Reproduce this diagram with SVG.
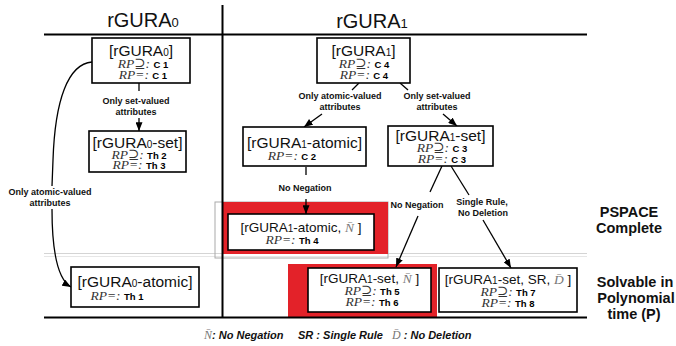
<svg xmlns="http://www.w3.org/2000/svg" width="676" height="346" viewBox="0 0 676 346">
<style>
.box{fill:#fff;stroke:#000;stroke-width:1.6}
.t{font-family:"Liberation Sans",Arial,sans-serif;font-size:15.5px;fill:#111}
.ts{font-family:"Liberation Sans",Arial,sans-serif;font-size:13.5px;fill:#111}
.sub{font-size:10px}
.rp{font-family:"Liberation Serif","DejaVu Serif",serif;font-style:italic;font-size:13.5px;fill:#333}
.v{font-family:"Liberation Sans",Arial,sans-serif;font-weight:bold;font-size:9.5px;fill:#000}
.ov{font-family:"Liberation Serif","DejaVu Serif",serif;font-style:italic;fill:#777}
.lbl{font-family:"Liberation Sans",Arial,sans-serif;font-weight:bold;font-size:9px;fill:#111;text-anchor:middle}
.hd{font-family:"Liberation Sans",Arial,sans-serif;font-size:20px;fill:#111;text-anchor:middle}
.cls{font-family:"Liberation Sans",Arial,sans-serif;font-weight:bold;font-size:14.5px;fill:#111;text-anchor:middle}
.leg{font-family:"Liberation Sans",Arial,sans-serif;font-weight:bold;font-style:italic;font-size:11px;fill:#111}
.c{fill:none;stroke:#000;stroke-width:1.3}
.frame{stroke:#000;stroke-width:2;fill:none}
</style>
<defs>
<marker id="ah" viewBox="0 0 10 8" refX="10" refY="4" markerWidth="9" markerHeight="7" markerUnits="userSpaceOnUse" orient="auto"><path d="M0,0 L10,4 L0,8 z" fill="#000"/></marker>
</defs>

<g id="background">
  <line x1="44" y1="253.5" x2="587" y2="253.5" stroke="#d4d4d4" stroke-width="1"/>
  <line x1="44" y1="256.5" x2="587" y2="256.5" stroke="#e6e6e6" stroke-width="1"/>
  <rect x="215" y="202" width="173" height="56" fill="none" stroke="#aaa" stroke-width="1"/>
  <rect x="223" y="202" width="165" height="52" fill="#e32229"/>
  <rect x="288" y="264" width="149" height="53" fill="#e32229"/>
</g>

<g id="frame">
  <line class="frame" x1="44" y1="34.5" x2="587" y2="34.5"/>
  <line class="frame" x1="44" y1="317.5" x2="587" y2="317.5"/>
  <line class="frame" x1="222.5" y1="5" x2="222.5" y2="318"/>
  <text class="hd" x="143" y="27">rGURA<tspan font-size="13px">0</tspan></text>
  <text class="hd" x="372" y="28">rGURA<tspan font-size="13px">1</tspan></text>
  <text class="cls" x="629" y="217">PSPACE</text>
  <text class="cls" x="629" y="233">Complete</text>
  <text class="cls" x="635" y="287">Solvable in</text>
  <text class="cls" x="636" y="303">Polynomial</text>
  <text class="cls" x="634" y="319">time (P)</text>
</g>

<g id="connectors">
  <line class="c" x1="139" y1="83" x2="139" y2="91"/>
  <text class="lbl" x="136" y="103.5">Only set-valued</text>
  <text class="lbl" x="136" y="114.5">attributes</text>
  <line class="c" x1="139" y1="118" x2="139" y2="131" marker-end="url(#ah)"/>

  <path class="c" d="M92,62 C68,64 55,100 53,160 L52,186"/>
  <text class="lbl" x="50" y="195">Only atomic-valued</text>
  <text class="lbl" x="50" y="206">attributes</text>
  <path class="c" d="M52,209 C52,250 57,279 71,287" marker-end="url(#ah)"/>

  <line class="c" x1="359" y1="83" x2="352" y2="90"/>
  <text class="lbl" x="340" y="99">Only atomic-valued</text>
  <text class="lbl" x="340" y="110">attributes</text>
  <line class="c" x1="322" y1="114" x2="304" y2="127" marker-end="url(#ah)"/>

  <line class="c" x1="400" y1="83" x2="408" y2="90"/>
  <text class="lbl" x="437" y="99">Only set-valued</text>
  <text class="lbl" x="437" y="110">attributes</text>
  <line class="c" x1="443" y1="114" x2="457" y2="126" marker-end="url(#ah)"/>

  <line class="c" x1="306" y1="167" x2="306" y2="175"/>
  <text class="lbl" x="305" y="191">No Negation</text>
  <line class="c" x1="306" y1="199" x2="306" y2="214" marker-end="url(#ah)"/>

  <line class="c" x1="442" y1="166" x2="430" y2="192"/>
  <text class="lbl" x="417" y="208">No Negation</text>
  <line class="c" x1="418" y1="216" x2="396" y2="267" marker-end="url(#ah)"/>

  <line class="c" x1="451" y1="166" x2="469" y2="195"/>
  <text class="lbl" x="482" y="205">Single Rule,</text>
  <text class="lbl" x="483" y="216">No Deletion</text>
  <line class="c" x1="483" y1="220" x2="511" y2="268" marker-end="url(#ah)"/>
</g>

<g id="n-rgura0">
  <rect class="box" x="92" y="38" width="98" height="45"/>
  <text class="t" x="141" y="56" text-anchor="middle">[rGURA<tspan class="sub">0</tspan>]</text>
  <text x="143" y="67.5" text-anchor="middle"><tspan class="rp">RP⊇: </tspan><tspan class="v">C 1</tspan></text>
  <text x="143" y="78.5" text-anchor="middle"><tspan class="rp">RP=: </tspan><tspan class="v">C 1</tspan></text>
</g>

<g id="n-rgura0-set">
  <rect class="box" x="89" y="131" width="97" height="41"/>
  <text class="t" x="137.5" y="148" text-anchor="middle">[rGURA<tspan class="sub">0</tspan>-set]</text>
  <text x="139" y="159" text-anchor="middle"><tspan class="rp">RP⊇: </tspan><tspan class="v">Th 2</tspan></text>
  <text x="139" y="169" text-anchor="middle"><tspan class="rp">RP=: </tspan><tspan class="v">Th 3</tspan></text>
</g>

<g id="n-rgura0-atomic">
  <rect class="box" x="71" y="267" width="128" height="40"/>
  <text class="t" x="135" y="287" text-anchor="middle">[rGURA<tspan class="sub">0</tspan>-atomic]</text>
  <text x="117" y="300" text-anchor="middle"><tspan class="rp">RP=: </tspan><tspan class="v">Th 1</tspan></text>
</g>

<g id="n-rgura1">
  <rect class="box" x="317" y="38" width="93" height="45"/>
  <text class="t" x="363.5" y="56" text-anchor="middle">[rGURA<tspan class="sub">1</tspan>]</text>
  <text x="364" y="67.5" text-anchor="middle"><tspan class="rp">RP⊇: </tspan><tspan class="v">C 4</tspan></text>
  <text x="364" y="78.5" text-anchor="middle"><tspan class="rp">RP=: </tspan><tspan class="v">C 4</tspan></text>
</g>

<g id="n-rgura1-atomic">
  <rect class="box" x="243" y="127" width="123" height="39"/>
  <text class="t" x="304.5" y="148" text-anchor="middle">[rGURA<tspan class="sub">1</tspan>-atomic]</text>
  <text x="292" y="160" text-anchor="middle"><tspan class="rp">RP=: </tspan><tspan class="v">C 2</tspan></text>
</g>

<g id="n-rgura1-set">
  <rect class="box" x="388" y="126" width="105" height="40"/>
  <text class="t" x="440.5" y="141" text-anchor="middle">[rGURA<tspan class="sub">1</tspan>-set]</text>
  <text x="442" y="152" text-anchor="middle"><tspan class="rp">RP⊇: </tspan><tspan class="v">C 3</tspan></text>
  <text x="442" y="163" text-anchor="middle"><tspan class="rp">RP=: </tspan><tspan class="v">C 3</tspan></text>
</g>

<g id="n-rgura1-atomic-nn">
  <rect class="box" x="228" y="214" width="146" height="36"/>
  <text class="ts" x="301" y="232" text-anchor="middle">[rGURA<tspan class="sub">1</tspan>-atomic, <tspan class="ov">N̄</tspan> ]</text>
  <text x="292" y="244" text-anchor="middle"><tspan class="rp">RP=: </tspan><tspan class="v">Th 4</tspan></text>
</g>

<g id="n-rgura1-set-nn">
  <rect class="box" x="308" y="268" width="123" height="44"/>
  <text class="ts" x="369.5" y="283" text-anchor="middle">[rGURA<tspan class="sub">1</tspan>-set, <tspan class="ov">N̄</tspan> ]</text>
  <text x="372" y="295" text-anchor="middle"><tspan class="rp">RP⊇: </tspan><tspan class="v">Th 5</tspan></text>
  <text x="372" y="306" text-anchor="middle"><tspan class="rp">RP=: </tspan><tspan class="v">Th 6</tspan></text>
</g>

<g id="n-rgura1-set-sr-nd">
  <rect class="box" x="439" y="268" width="138" height="44"/>
  <text class="ts" x="508" y="284" text-anchor="middle">[rGURA<tspan class="sub">1</tspan>-set, SR, <tspan class="ov">D̄</tspan> ]</text>
  <text x="508" y="296" text-anchor="middle"><tspan class="rp">RP⊇: </tspan><tspan class="v">Th 7</tspan></text>
  <text x="508" y="307" text-anchor="middle"><tspan class="rp">RP=: </tspan><tspan class="v">Th 8</tspan></text>
</g>

<g id="legend">
  <text x="204" y="339"><tspan class="ov" font-size="12px">N̄</tspan><tspan class="leg">: No Negation</tspan></text>
  <text class="leg" x="298" y="339">SR : Single Rule</text>
  <text x="392" y="339"><tspan class="ov" font-size="12px">D̄</tspan><tspan class="leg"> : No Deletion</tspan></text>
</g>
</svg>
